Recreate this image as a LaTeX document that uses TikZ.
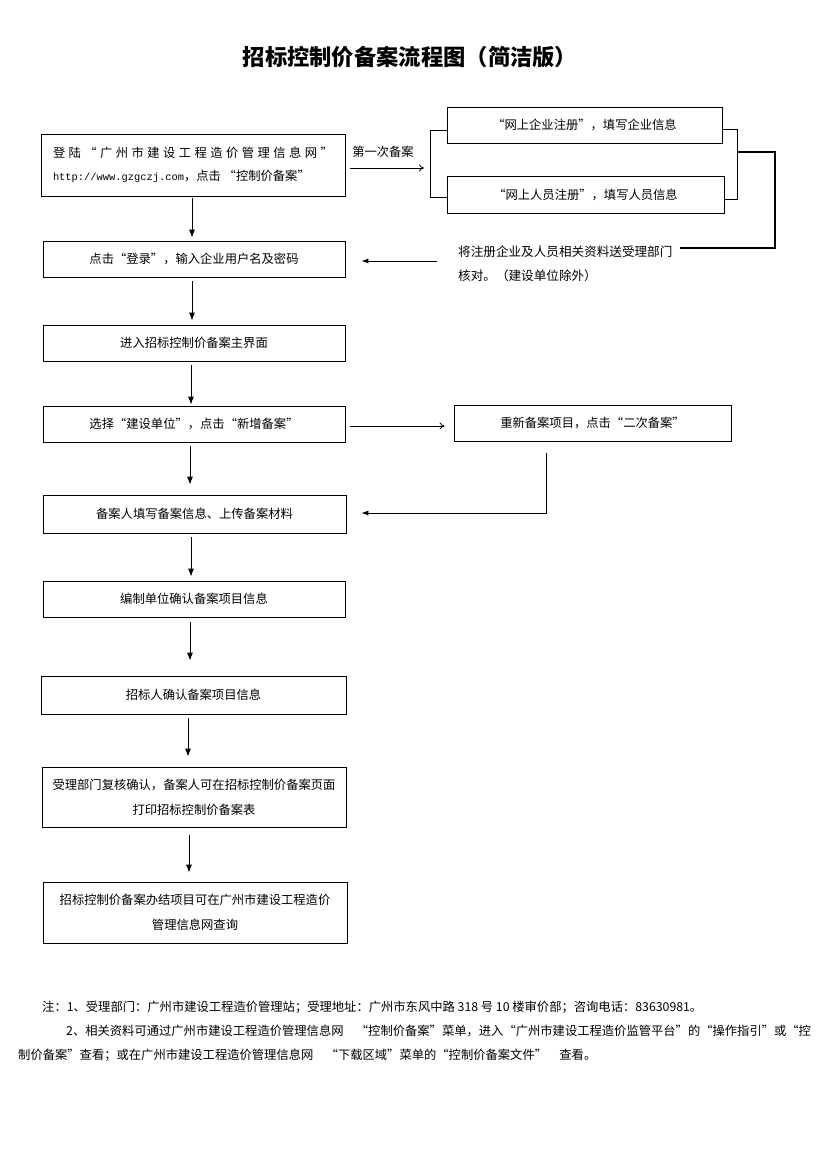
\documentclass[tikz,border=0pt]{standalone}
\usepackage{fontspec}
\setmainfont{Noto Sans CJK SC}
\newfontfamily\urlfont{Liberation Mono}
\usetikzlibrary{arrows.meta,calc}
\begin{document}
\begin{tikzpicture}[x=1pt,y=-1pt,
  txt/.style={font=\fontsize{12.3}{24}\selectfont},
  box/.style={txt, draw, line width=0.8pt, inner sep=0pt, align=center},
  varr/.style={-{Latex[length=8pt,width=6pt]}, line width=0.8pt},
  harr/.style={-{To[length=5pt,width=7pt]}, line width=0.8pt},
  larr/.style={-{Latex[length=7pt,width=5pt]}, line width=0.8pt},
  link/.style={line width=0.8pt},
  thickline/.style={line width=2pt},
  notetxt/.style={font=\fontsize{12.3}{14}\selectfont, anchor=west, inner sep=0pt}]
\fill[white] (0,0) rectangle (826,1169);
\useasboundingbox (0,0) rectangle (826,1169);

% title
\node[font=\fontsize{22.3}{27}\selectfont\bfseries] (title) at (410,57) {招标控制价备案流程图（简洁版）};

% main column
\node[box, minimum width=304pt, minimum height=62pt, align=left, font=\fontsize{12.3}{23.5}\selectfont] (b1) at (193,165)
  {\makebox[280pt][s]{登\hfill 陆\hfill “\hfill 广\hfill 州\hfill 市\hfill 建\hfill 设\hfill 工\hfill 程\hfill 造\hfill 价\hfill 管\hfill 理\hfill 信\hfill 息\hfill 网\hfill ”}\\
   {\urlfont\fontsize{10.4}{12}\selectfont http://www.gzgczj.com}，点击 “控制价备案”\hspace{20pt}};
\node[box, minimum width=302pt, minimum height=36pt] (b2) at (194,259) {点击“登录”，输入企业用户名及密码};
\node[box, minimum width=302pt, minimum height=36pt] (b3) at (194,343) {进入招标控制价备案主界面};
\node[box, minimum width=302pt, minimum height=36pt] (b4) at (194,424) {选择“建设单位”，点击“新增备案”};
\node[box, minimum width=303pt, minimum height=38pt] (b6) at (194.5,514) {备案人填写备案信息、上传备案材料};
\node[box, minimum width=302pt, minimum height=36pt] (b7) at (194,599) {编制单位确认备案项目信息};
\node[box, minimum width=305pt, minimum height=38pt] (b8) at (193.5,695) {招标人确认备案项目信息};
\node[box, minimum width=304pt, minimum height=60pt, font=\fontsize{12.3}{25}\selectfont] (b9) at (194,797)
  {受理部门复核确认，备案人可在招标控制价备案页面\\打印招标控制价备案表};
\node[box, minimum width=304pt, minimum height=61pt, font=\fontsize{12.3}{25}\selectfont] (b10) at (195,912.5)
  {招标控制价备案办结项目可在广州市建设工程造价\\管理信息网查询};

% right side
\node[box, minimum width=275pt, minimum height=36pt] (ba) at (584.5,125) {“网上企业注册”，填写企业信息};
\node[box, minimum width=277pt, minimum height=37pt] (bb) at (585.5,194.5) {“网上人员注册”，填写人员信息};
\node[box, minimum width=277pt, minimum height=36pt] (b5) at (592.5,423) {重新备案项目，点击“二次备案”};

\node[txt, anchor=west, inner sep=0pt, font=\fontsize{12.6}{24}\selectfont] (n1) at (458,252) {将注册企业及人员相关资料送受理部门};
\node[txt, anchor=west, inner sep=0pt, font=\fontsize{12.6}{24}\selectfont] (n2) at (458,276) {核对。（建设单位除外）};

\node[txt, inner sep=0pt] (lab1) at (383,152) {第一次备案};

% connectors
\draw[harr] ($(b1.east)+(5,3)$) -- (424,168);
\draw[link] ($(ba.west)+(0,5)$) -- (430,130) -- (430,197) -- ($(bb.west)+(0,2.5)$);
\draw[link] ($(ba.east)+(0,4)$) -- (737,129) -- (737,199) -- ($(bb.east)+(0,4.5)$);
\coordinate (rb) at (737,152);
\draw[thickline] (rb) -- (775,152) -- (775,248) -- ($(n1.east)+(7,-4)$);
\coordinate (c1) at (437,261);
\draw[larr] (c1) -- ($(b2.east)+(16,2)$);

\draw[varr] ($(b1.south)+(-1,2)$) -- ($(b2.north)+(-2,-3)$);
\draw[varr] ($(b2.south)+(-2,4)$) -- ($(b3.north)+(-2,-4)$);
\draw[varr] ($(b3.south)+(-3,4)$) -- ($(b4.north)+(-3,-1)$);
\draw[varr] ($(b4.south)+(-4,4)$) -- ($(b6.north)+(-4.5,-10)$);
\draw[varr] ($(b6.south)+(-3.5,4)$) -- ($(b7.north)+(-3,-4)$);
\draw[varr] ($(b7.south)+(-4,5)$) -- ($(b8.north)+(-3.5,-15)$);
\draw[varr] ($(b8.south)+(-5.5,4)$) -- ($(b9.north)+(-6,-10)$);
\draw[varr] ($(b9.south)+(-5,8)$) -- ($(b10.north)+(-6,-9)$);

\draw[harr] ($(b4.east)+(5,2)$) -- ($(b5.west)+(-9,3)$);
\draw[larr] ($(b5.south)+(-46.5,12)$) -- (546,513) -- ($(b6.east)+(15,-1)$);

% notes
\node[notetxt] (note1) at (42,1007) {注：1、受理部门：广州市建设工程造价管理站；受理地址：广州市东风中路 318 号 10 楼审价部；咨询电话：83630981。};
\node[notetxt] (note2) at (66,1031) {2、相关资料可通过广州市建设工程造价管理信息网　“控制价备案”菜单，进入“广州市建设工程造价监管平台”的“操作指引”或“控};
\node[notetxt] (note3) at (18,1055) {制价备案”查看；或在广州市建设工程造价管理信息网　“下载区域”菜单的“控制价备案文件”　查看。};
\end{tikzpicture}
\end{document}
